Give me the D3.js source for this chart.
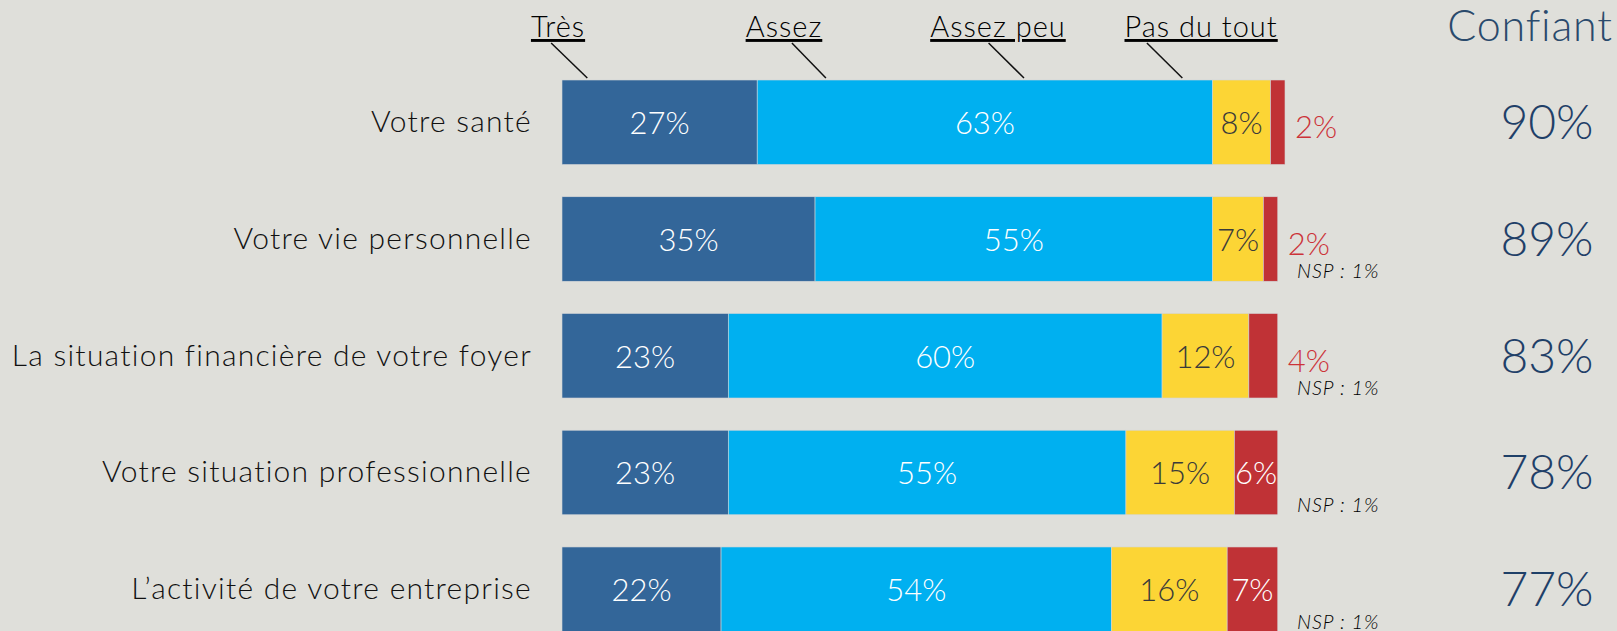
<!DOCTYPE html>
<html>
<head>
<meta charset="utf-8">
<script src="https://cdn.jsdelivr.net/npm/d3@7"></script>
<style>
  body { margin: 0; background: #dfdfda; }
  svg text { font-family: "Lato", "Open Sans", sans-serif; font-weight: 300; }
</style>
</head>
<body>
<div id="container"></div>
<script>
let w = 1617;
let h = 631;

// DATA
let categories = ["Votre santé", "Votre vie personnelle", "La situation financière de votre foyer",
  "Votre situation professionnelle", "L’activité de votre entreprise"];
let seriesNames = ["Très", "Assez", "Assez peu", "Pas du tout"];
let tres = [27, 35, 23, 23, 22];
let assez = [63, 55, 60, 55, 54];
let assezPeu = [8, 7, 12, 15, 16];
let pasDuTout = [2, 2, 4, 6, 7];
let nsp = [0, 1, 1, 1, 1];
let confiant = [90, 89, 83, 78, 77];

let colors = ["#336699", "#00b0f0", "#fcd535", "#c03236"];
let textColors = ["#ffffff", "#ffffff", "#3a3a3a", "#ffffff"];

// table for the stack
let rows = categories.map(function(c, i){
  return { cat: c, "Très": tres[i], "Assez": assez[i], "Assez peu": assezPeu[i], "Pas du tout": pasDuTout[i], nsp: nsp[i], conf: confiant[i] };
});

// SVG
let viz = d3.select("#container").append("svg")
    .attr("width", w)
    .attr("height", h)
    .style("background-color", "#dfdfda")
;

// SCALES
let xScale = d3.scaleLinear().domain([0, 100]).range([562, 1285]);
let yScale = d3.scaleBand().domain(categories).range([80, 631.5]).paddingInner(0.276).paddingOuter(0);

let stack = d3.stack().keys(seriesNames);
let stacked = stack(rows);

// BARS
let groups = viz.selectAll(".serie").data(stacked).enter()
  .append("g")
    .attr("class", "serie")
    .attr("fill", function(d, i){ return colors[i]; })
;
groups.selectAll("rect").data(function(d){ return d; }).enter()
  .append("rect")
    .attr("x", function(d){ return xScale(d[0]); })
    .attr("y", function(d){ return yScale(d.data.cat); })
    .attr("width", function(d){ return xScale(d[1]) - xScale(d[0]); })
    .attr("height", yScale.bandwidth())
    .attr("stroke", "#d4d6d8")
    .attr("stroke-width", 0.6)
;

// labels inside (or outside for the small red ones)
stacked.forEach(function(s, si){
  viz.selectAll(".lab" + si).data(s).enter()
    .append("text")
      .attr("class", "lab" + si)
      .attr("x", function(d){
        let wd = d[1] - d[0];
        if (si == 3 && wd < 5) return xScale(d[1]) + 10;
        return xScale((d[0] + d[1]) / 2);
      })
      .attr("y", function(d){ return yScale(d.data.cat) + yScale.bandwidth() / 2 + (si == 3 && d[1] - d[0] < 5 ? 16 : 12); })
      .attr("text-anchor", function(d){ return (si == 3 && d[1] - d[0] < 5) ? "start" : "middle"; })
      .attr("fill", function(d){ return (si == 3 && d[1] - d[0] < 5) ? "#cc3339" : textColors[si]; })
      .style("font-size", "31px")
      .text(function(d){ return (d[1] - d[0]) + "%"; })
  ;
});

// category labels
viz.selectAll(".cat").data(rows).enter()
  .append("text")
    .attr("class", "cat")
    .attr("x", 532)
    .attr("y", function(d){ return yScale(d.cat) + yScale.bandwidth() / 2 + 10; })
    .attr("text-anchor", "end")
    .attr("fill", "#111")
    .style("font-size", "30px")
    .style("letter-spacing", "1.25px")
    .text(function(d){ return d.cat; })
;

// NSP
viz.selectAll(".nsp").data(rows.filter(function(d){ return d.nsp > 0; })).enter()
  .append("text")
    .attr("class", "nsp")
    .attr("x", xScale(100) + 12)
    .attr("y", function(d){ return yScale(d.cat) + yScale.bandwidth() - 3; })
    .attr("fill", "#000")
    .style("font-size", "20px")
    .style("letter-spacing", "0.9px")
    .style("font-style", "italic")
    .text(function(d){ return "NSP : " + d.nsp + "%"; })
;

// Confiant column
viz.append("text")
    .attr("x", 1530)
    .attr("y", 41)
    .attr("text-anchor", "middle")
    .attr("fill", "#2a4a6c")
    .style("font-size", "43px")
    .style("letter-spacing", "0.8px")
    .text("Confiant")
;
viz.selectAll(".conf").data(rows).enter()
  .append("text")
    .attr("class", "conf")
    .attr("x", 1547)
    .attr("y", function(d){ return yScale(d.cat) + yScale.bandwidth() / 2 + 17; })
    .attr("text-anchor", "middle")
    .attr("fill", "#1f4068")
    .style("font-size", "48px")
    .text(function(d){ return d.conf + "%"; })
;

// header legend with leader lines (positions in % of the x scale)
let headX = [-0.55, 30.7, 60.3, 88.4];
let leadFrom = [-1.5, 31.8, 59, 80.9];
let leadTo = [3.5, 36.5, 63.9, 85.8];

viz.selectAll(".head").data(seriesNames).enter()
  .append("text")
    .attr("class", "head")
    .attr("x", function(d, i){ return xScale(headX[i]); })
    .attr("y", 37)
    .attr("text-anchor", "middle")
    .attr("fill", "#000")
    .style("font-size", "29px")
    .style("letter-spacing", "1px")
    .style("text-decoration", "underline")
    .text(function(d){ return d; })
;
viz.selectAll(".lead").data(seriesNames).enter()
  .append("line")
    .attr("class", "lead")
    .attr("x1", function(d, i){ return xScale(leadFrom[i]); })
    .attr("y1", 43)
    .attr("x2", function(d, i){ return xScale(leadTo[i]); })
    .attr("y2", 78)
    .attr("stroke", "#111")
    .attr("stroke-width", 1.5)
;
</script>
</body>
</html>
